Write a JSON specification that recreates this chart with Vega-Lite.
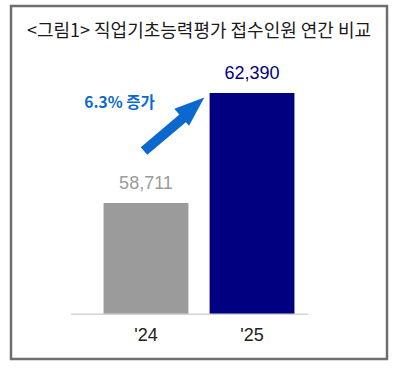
{
  "$schema": "https://vega.github.io/schema/vega-lite/v6.json",
  "width": 376,
  "height": 353,
  "autosize": {"type": "none"},
  "padding": {"left": 11, "top": 6, "right": 11, "bottom": 12},
  "background": "white",
  "config": {
    "view": {"stroke": "#6e6e6e", "strokeWidth": 2.5}
  },
  "title": {
    "text": "<그림1> 직업기초능력평가 접수인원 연간 비교",
    "font": "Noto Sans CJK KR",
    "fontSize": 18,
    "fontWeight": "normal",
    "color": "#1a1a1a",
    "anchor": "middle",
    "frame": "group",
    "offset": -35
  },
  "datasets": {
    "bars": [
      {"year": "'24", "value": 58711, "label": "58,711"},
      {"year": "'25", "value": 62390, "label": "62,390"}
    ],
    "baseline": [
      {"xs": 15.96, "xe": 78.99, "v": 55000}
    ],
    "shaft": [
      {"xs": 35.37, "ys": 60453, "xe": 46.2, "ye": 61600}
    ],
    "head": [
      {"x": 48.4, "y": 61911}
    ],
    "note": [
      {"x": 28.86, "y": 62041, "text": "6.3% 증가"}
    ]
  },
  "resolve": {"scale": {"x": "independent"}, "axis": {"x": "independent"}},
  "layer": [
    {
      "data": {"name": "bars"},
      "encoding": {
        "x": {
          "field": "year",
          "type": "nominal",
          "sort": null,
          "scale": {"paddingInner": 0.2, "paddingOuter": 0.873},
          "axis": {
            "title": null,
            "domain": false,
            "ticks": false,
            "labelAngle": 0,
            "labelFont": "Liberation Sans",
            "labelFontSize": 18,
            "labelColor": "#222222",
            "labelPadding": 11,
            "offset": -44,
            "grid": false
          }
        }
      },
      "layer": [
        {
          "mark": {"type": "bar"},
          "encoding": {
            "y": {
              "field": "value",
              "type": "quantitative",
              "scale": {"domain": [53500, 65300], "nice": false, "zero": false},
              "axis": null
            },
            "y2": {"datum": 55000},
            "color": {
              "field": "year",
              "type": "nominal",
              "scale": {"domain": ["'24", "'25"], "range": ["#9b9b9b", "#000080"]},
              "legend": null
            }
          }
        },
        {
          "mark": {"type": "text", "baseline": "alphabetic", "dy": -14, "font": "Liberation Sans", "fontSize": 18},
          "encoding": {
            "y": {"field": "value", "type": "quantitative"},
            "text": {"field": "label"},
            "color": {
              "field": "year",
              "type": "nominal",
              "scale": {"domain": ["'24", "'25"], "range": ["#a0a0a0", "#2e2e8a"]},
              "legend": null
            }
          }
        }
      ]
    },
    {
      "encoding": {},
      "layer": [
        {
          "data": {"name": "baseline"},
          "mark": {"type": "rule", "color": "#d4d4d4", "strokeWidth": 1.5},
          "encoding": {
            "x": {"field": "xs", "type": "quantitative", "scale": {"domain": [0, 100], "nice": false, "zero": false}, "axis": null},
            "x2": {"field": "xe"},
            "y": {"field": "v", "type": "quantitative"}
          }
        },
        {
          "data": {"name": "shaft"},
          "mark": {"type": "rule", "color": "#0a68cf", "strokeWidth": 10, "strokeCap": "butt"},
          "encoding": {
            "x": {"field": "xs", "type": "quantitative"},
            "x2": {"field": "xe"},
            "y": {"field": "ys", "type": "quantitative"},
            "y2": {"field": "ye"}
          }
        },
        {
          "data": {"name": "head"},
          "mark": {"type": "point", "shape": "M0,-1L0.75,1L-0.75,1Z", "filled": true, "color": "#0a68cf", "opacity": 1, "size": 900, "angle": 49},
          "encoding": {
            "x": {"field": "x", "type": "quantitative"},
            "y": {"field": "y", "type": "quantitative"}
          }
        },
        {
          "data": {"name": "note"},
          "mark": {"type": "text", "font": "Noto Sans CJK KR", "fontWeight": "bold", "fontSize": 15.5, "color": "#0a68cf", "baseline": "middle", "align": "center"},
          "encoding": {
            "x": {"field": "x", "type": "quantitative"},
            "y": {"field": "y", "type": "quantitative"},
            "text": {"field": "text"}
          }
        }
      ]
    }
  ]
}
